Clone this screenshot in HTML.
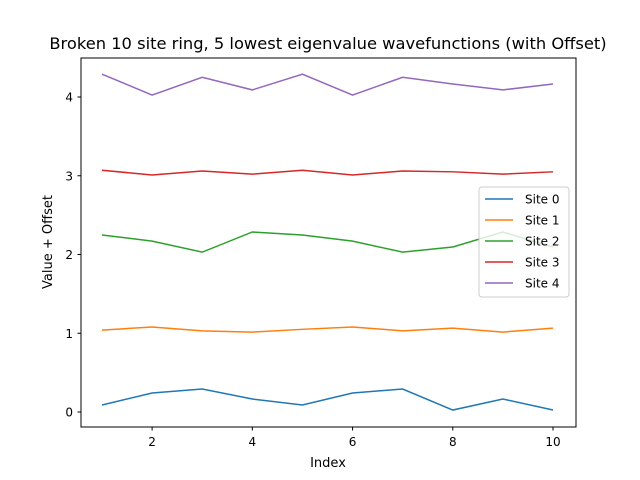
<!DOCTYPE html>
<html><head><meta charset="utf-8"><style>
html,body{margin:0;padding:0;background:#fff;}
svg{display:block;font-family:"DejaVu Sans","Liberation Sans",sans-serif;}
</style></head><body>
<svg id="chart" width="640" height="480">
<text x="328" y="49" font-size="16.3" text-anchor="middle">Broken 10 site ring, 5 lowest eigenvalue wavefunctions (with Offset)</text>
<rect x="81" y="58" width="495" height="369" fill="none" stroke="#000" stroke-width="1"/>
<g id="ticks"></g>
<g id="lines"></g>
<text x="328" y="467" font-size="13" text-anchor="middle">Index</text>
<text transform="translate(52,242) rotate(-90)" font-size="13" text-anchor="middle">Value + Offset</text>
<g id="legend"></g>
</svg>
<script>
const xValues=[1,2,3,4,5,6,7,8,9,10];
const site0=[0.089,0.241,0.292,0.165,0.089,0.241,0.292,0.025,0.165,0.025];
const site1=[1.04,1.08,1.03,1.015,1.05,1.08,1.03,1.065,1.015,1.065];
const site2=[2.248,2.17,2.03,2.286,2.248,2.17,2.03,2.095,2.286,2.095];
const site3=[3.07,3.01,3.06,3.02,3.07,3.01,3.06,3.05,3.02,3.05];
const site4=[4.29,4.025,4.25,4.09,4.29,4.025,4.25,4.165,4.09,4.165];
const seriesNames=["Site 0","Site 1","Site 2","Site 3","Site 4"];
const xTicks=[2,4,6,8,10];
const yTicks=[0,1,2,3,4];
const colors=["#1f77b4","#ff7f0e","#2ca02c","#d62728","#9467bd"];
const NS="http://www.w3.org/2000/svg";
function xs(v){return 102+(v-1)*(553-102)/9;}
function ys(v){return 412-v*78.75;}
const tg=document.getElementById('ticks');
function mk(tag,attrs,parent){const e=document.createElementNS(NS,tag);for(const k in attrs)e.setAttribute(k,attrs[k]);parent.appendChild(e);return e;}
xTicks.forEach(t=>{
 const l=mk('line',{x1:xs(t),x2:xs(t),y1:427,y2:430.5,stroke:'#000'},tg);
 
 
 const tx=mk('text',{x:xs(t),y:446,'font-size':12,'text-anchor':'middle'},tg);tx.textContent=t;
 
 
});
yTicks.forEach(t=>{
 const l=mk('line',{x1:77.5,x2:81,y1:ys(t),y2:ys(t),stroke:'#000'},tg);
 
 
 const tx=mk('text',{x:73,y:ys(t)+4.5,'font-size':12,'text-anchor':'end'},tg);tx.textContent=t;
 
 
});
const lg=document.getElementById('lines');
[site0,site1,site2,site3,site4].forEach((s,i)=>{
 const p=mk('polyline',{points:s.map((v,j)=>xs(xValues[j])+','+ys(v)).join(' '),fill:'none',stroke:colors[i],'stroke-width':1.5},lg);
 
 
});
const leg=document.getElementById('legend');
const box=mk('rect',{x:479,y:187,width:90,height:110,rx:3,fill:'#fff','fill-opacity':0.8,stroke:'#ccc'},leg);


seriesNames.forEach((n,i)=>{
 const y=199+i*21;
 const l=mk('line',{x1:485,x2:513,y1:y,y2:y,stroke:colors[i],'stroke-width':1.5},leg);
 
 
 const t=mk('text',{x:525,y:y+4.5,'font-size':12},leg);t.textContent=n;
 
 
});
</script>
</body></html>
